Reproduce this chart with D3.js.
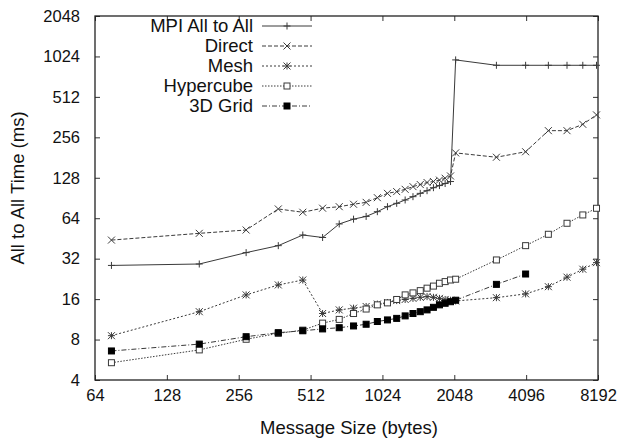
<!DOCTYPE html>
<html>
<head>
<meta charset="utf-8">
<script src="https://cdnjs.cloudflare.com/ajax/libs/d3/7.8.5/d3.min.js"></script>
<style>
  body { margin: 0; background: #fff; }
  svg text { font-family: "Liberation Sans", Arial, sans-serif; fill: #111; }
</style>
</head>
<body>
<div id="chart"></div>
<script>
// message sizes (bytes)
const sizes = [75, 175, 275, 375, 475, 575, 675, 775, 875, 975, 1075, 1175, 1275, 1375, 1475,
  1575, 1675, 1775, 1875, 1975, 2075, 3075, 4075, 5075, 6075, 7075, 8075];

// all to all time (ms)
const mpiAllToAll = [28.5, 29.2, 35.5, 40, 48, 46, 58, 63, 66, 71.6, 78, 82.6, 87.5, 92.6, 98,
  102.6, 108, 112, 116, 120, 965, 880, 880, 880, 880, 880, 880];
const direct = [44, 49.4, 52.3, 75, 70.9, 76, 78, 81.3, 84, 91, 98, 101, 105, 110, 114,
  118, 120, 123, 127, 132, 196, 182, 200, 287, 287, 320, 376];
const mesh = [8.55, 12.9, 17.2, 20.4, 22.2, 12.5, 13.3, 13.7, 14.1, 14.7, 15.1, 15.6, 15.9, 16.2, 16.5,
  16.7, 16.5, 16.2, 15.9, 15.7, 15.5, 16.4, 17.5, 19.8, 23.3, 26.7, 29.9];
const hypercube = [5.38, 6.7, 8.04, 8.9, 9.4, 10.6, 11.3, 12.5, 13.5, 14.5, 15.0, 15.9, 17.2, 17.8, 18.5,
  19.3, 20, 21, 21.6, 22.2, 22.5, 31.3, 40, 48.6, 58.7, 67.7, 75.9];
const grid3d = [6.58, 7.4, 8.4, 9.0, 9.3, 9.6, 9.8, 10.1, 10.4, 10.9, 11.2, 11.5, 12, 12.5, 12.9,
  13.3, 13.9, 14.5, 14.9, 15.3, 15.7, 20.6, 24.6];

const xTicks = [64, 128, 256, 512, 1024, 2048, 4096, 8192];
const yTicks = [4, 8, 16, 32, 64, 128, 256, 512, 1024, 2048];

const series = [
  { name: 'MPI All to All', values: mpiAllToAll, dash: null, marker: 'plus' },
  { name: 'Direct', values: direct, dash: '4,2', marker: 'cross' },
  { name: 'Mesh', values: mesh, dash: '2,2', marker: 'star' },
  { name: 'Hypercube', values: hypercube, dash: '1.5,1.5', marker: 'box' },
  { name: '3D Grid', values: grid3d, dash: '5,2,1,2', marker: 'boxFilled' }
];

const W = 621, H = 441;
const margin = { top: 16, right: 23, bottom: 61, left: 95 };
const tickFont = 16.5, titleFont = 18.5;

const svg = d3.select('#chart').append('svg')
  .attr('width', W).attr('height', H);

const x = d3.scaleLog().base(2).domain([64, 8192]).range([margin.left, W - margin.right]);
const y = d3.scaleLog().base(2).domain([4, 2048]).range([H - margin.bottom, margin.top]);

const ink = '#3a3a3a';

function drawMarker(g, type, cx, cy) {
  const s = 3.5;
  if (type === 'plus') {
    g.append('path').attr('d', `M${cx - s},${cy}H${cx + s}M${cx},${cy - s}V${cy + s}`)
      .attr('stroke', ink).attr('fill', 'none');
  } else if (type === 'cross') {
    g.append('path').attr('d', `M${cx - s},${cy - s}L${cx + s},${cy + s}M${cx - s},${cy + s}L${cx + s},${cy - s}`)
      .attr('stroke', ink).attr('fill', 'none');
  } else if (type === 'star') {
    g.append('path').attr('d', `M${cx - s},${cy - s}L${cx + s},${cy + s}M${cx - s},${cy + s}L${cx + s},${cy - s}M${cx - s},${cy}H${cx + s}M${cx},${cy - s}V${cy + s}`)
      .attr('stroke', ink).attr('fill', 'none');
  } else if (type === 'box') {
    g.append('rect').attr('x', cx - 3).attr('y', cy - 3).attr('width', 6).attr('height', 6)
      .attr('stroke', ink).attr('fill', '#fff');
  } else if (type === 'boxFilled') {
    g.append('rect').attr('x', cx - 3).attr('y', cy - 3).attr('width', 6).attr('height', 6)
      .attr('stroke', '#000').attr('fill', '#000');
  }
}

// axes (ticks point inwards, mirrored on top/right)
svg.append('g')
  .attr('transform', `translate(0,${H - margin.bottom})`)
  .call(d3.axisBottom(x).tickValues(xTicks).tickFormat(d3.format('d')).tickSizeInner(-5).tickSizeOuter(0).tickPadding(9))
  .call(g => g.select('.domain').remove())
  .call(g => g.selectAll('text').attr('font-size', tickFont));

svg.append('g')
  .attr('transform', `translate(0,${margin.top})`)
  .call(d3.axisTop(x).tickValues(xTicks).tickFormat('').tickSizeInner(-5).tickSizeOuter(0))
  .call(g => g.select('.domain').remove());

svg.append('g')
  .attr('transform', `translate(${margin.left},0)`)
  .call(d3.axisLeft(y).tickValues(yTicks).tickFormat(d3.format('d')).tickSizeInner(-5).tickSizeOuter(0).tickPadding(15))
  .call(g => g.select('.domain').remove())
  .call(g => g.selectAll('text').attr('font-size', tickFont));

svg.append('g')
  .attr('transform', `translate(${W - margin.right},0)`)
  .call(d3.axisRight(y).tickValues(yTicks).tickFormat('').tickSizeInner(-5).tickSizeOuter(0))
  .call(g => g.select('.domain').remove());

svg.selectAll('.tick line').attr('stroke', '#333');

svg.append('rect')
  .attr('x', margin.left).attr('y', margin.top)
  .attr('width', W - margin.left - margin.right)
  .attr('height', H - margin.top - margin.bottom)
  .attr('fill', 'none').attr('stroke', '#222').attr('stroke-width', 1.3);

// axis titles
svg.append('text')
  .attr('x', 349).attr('y', 434)
  .attr('text-anchor', 'middle').attr('font-size', titleFont)
  .text('Message Size (bytes)');

svg.append('text')
  .attr('transform', `translate(24,188) rotate(-90)`)
  .attr('text-anchor', 'middle').attr('font-size', titleFont)
  .text('All to All Time (ms)');

// series
const line = d3.line().x(d => x(d[0])).y(d => y(d[1]));

series.forEach(s => {
  const pts = s.values.map((v, i) => [sizes[i], v]);
  const g = svg.append('g');
  g.append('path')
    .attr('d', line(pts))
    .attr('fill', 'none').attr('stroke', ink).attr('stroke-width', 1)
    .attr('stroke-dasharray', s.dash);
  pts.forEach(p => drawMarker(g, s.marker, x(p[0]), y(p[1])));
});

// legend
const legend = svg.append('g');
series.forEach((s, i) => {
  const ly = 26 + i * 20;
  legend.append('text')
    .attr('x', 253).attr('y', ly).attr('dy', '0.35em')
    .attr('text-anchor', 'end').attr('font-size', titleFont)
    .text(s.name);
  legend.append('path')
    .attr('d', `M262,${ly}H312`)
    .attr('stroke', ink).attr('fill', 'none')
    .attr('stroke-dasharray', s.dash);
  drawMarker(legend, s.marker, 287, ly);
});
</script>
</body>
</html>
